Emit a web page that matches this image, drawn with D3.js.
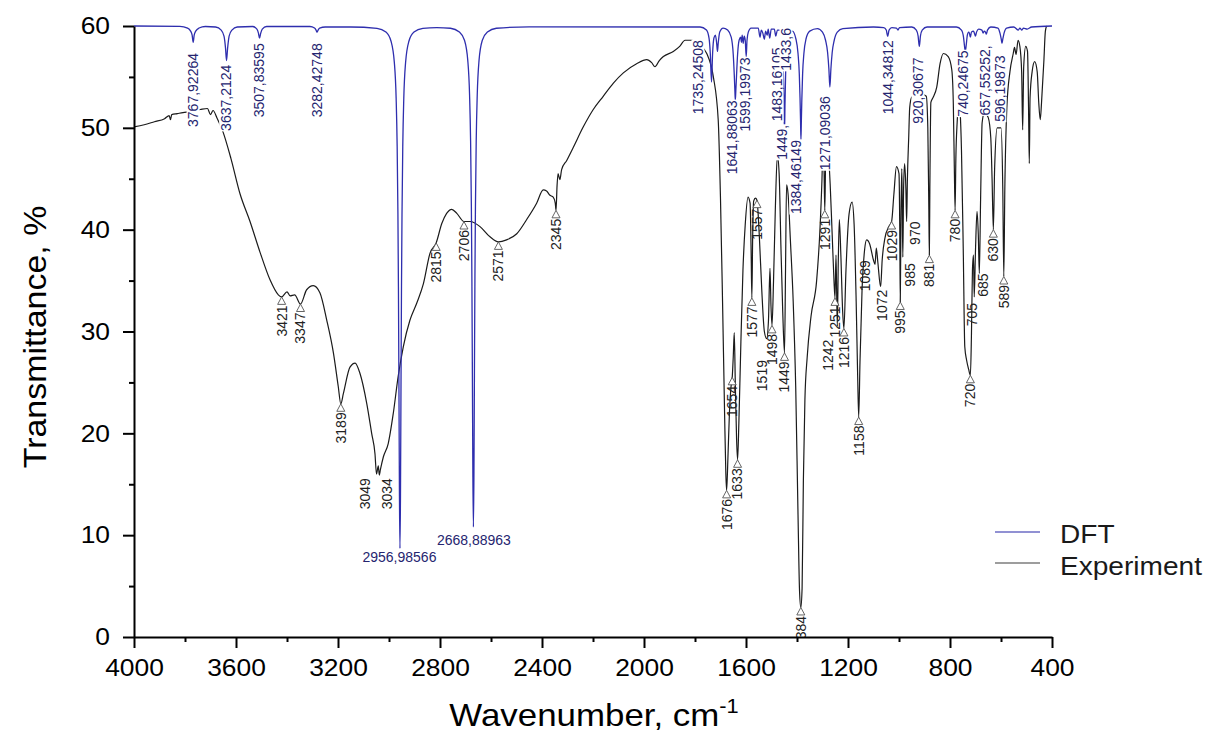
<!DOCTYPE html>
<html><head><meta charset="utf-8">
<script src="https://cdn.jsdelivr.net/npm/d3@7/dist/d3.min.js"></script>
<style>
body{margin:0;background:#fff}
svg{display:block}
text{font-family:"Liberation Sans",Arial,Helvetica,sans-serif}
</style>
</head><body>
<svg id="chart" width="1207" height="733"></svg>
<script>
// ---------------- DATA ----------------
const xTicks = [4000,3600,3200,2800,2400,2000,1600,1200,800,400];
const xMinorTicks = [3800,3400,3000,2600,2200,1800,1400,1000,600];
const yTicks = [0,10,20,30,40,50,60];
const yMinorTicks = [5,15,25,35,45,55];
const seriesNames = ["DFT","Experiment"];

// Experimental spectrum: [wavenumber, transmittance]
const experiment = [
[4000,50.1],[3960,50.3],[3920,50.6],[3880,50.9],[3862,51.2],[3857,50.8],[3852,51.3],[3830,51.4],[3808,51.5],[3780,51.6],[3740,51.8],[3712,51.9],[3700,51.3],[3690,51.7],[3675,51.0],[3651,49.6],[3620,47.0],[3584,43.5],[3545,40.8],[3506,37.8],[3467,35.1],[3434,33.6],[3421,33.4],[3400,33.9],[3388,33.5],[3370,33.6],[3347,32.7],[3323,34.1],[3297,34.5],[3271,33.8],[3244,31.1],[3218,27.9],[3199,24.6],[3189,22.9],[3179,23.9],[3153,26.5],[3133,26.9],[3114,25.9],[3087,22.9],[3068,20.0],[3055,18.0],[3049,16.0],[3042,16.8],[3038,15.9],[3034,16.4],[3022,17.7],[3003,19.0],[2983,22.0],[2964,25.6],[2944,28.5],[2918,31.1],[2891,32.8],[2865,34.7],[2839,37.7],[2815,38.7],[2793,40.6],[2774,41.6],[2754,42.0],[2734,41.6],[2706,40.8],[2682,40.8],[2643,40.3],[2604,39.3],[2571,38.8],[2539,39.0],[2499,39.6],[2460,41.0],[2421,42.6],[2395,43.9],[2382,43.8],[2370,43.4],[2356,43.2],[2348,42.6],[2345,41.9],[2341,44.3],[2337,45.5],[2330,44.9],[2323,45.9],[2303,46.8],[2277,48.1],[2238,50.1],[2199,51.8],[2160,53.1],[2120,54.4],[2081,55.4],[2029,56.3],[1989,56.7],[1970,56.4],[1957,56.0],[1940,56.6],[1924,57.0],[1885,57.5],[1860,58.0],[1839,58.6],[1813,58.6],[1780,58.1],[1754,57.3],[1728,55.0],[1709,50.8],[1700,43.0],[1692,33.0],[1684,22.0],[1679,16.0],[1676,14.4],[1671,17.5],[1665,22.0],[1659,24.5],[1654,25.5],[1650,27.5],[1646,29.9],[1642,25.0],[1637,19.5],[1633,17.4],[1628,21.0],[1620,29.0],[1612,36.0],[1603,40.5],[1592,43.2],[1584,42.6],[1580,38.0],[1577,33.3],[1574,39.0],[1570,42.8],[1563,43.1],[1557,42.9],[1548,39.5],[1538,34.0],[1528,30.0],[1519,29.3],[1512,31.0],[1506,36.2],[1502,32.5],[1498,30.6],[1492,35.0],[1485,42.0],[1477,47.3],[1470,45.5],[1463,38.3],[1456,32.0],[1449,27.9],[1445,36.0],[1441,44.4],[1435,43.5],[1426,39.0],[1415,33.0],[1405,24.5],[1396,12.0],[1390,4.5],[1385,2.9],[1380,4.8],[1375,15.4],[1369,23.3],[1360,27.5],[1345,31.5],[1323,35.0],[1310,40.0],[1302,45.0],[1298,48.5],[1294,46.0],[1291,41.9],[1288,46.5],[1284,49.3],[1278,48.0],[1270,44.5],[1262,39.5],[1255,35.0],[1251,33.3],[1247,37.5],[1242,30.5],[1238,37.0],[1234,41.0],[1228,37.5],[1221,32.0],[1216,30.3],[1208,36.0],[1196,41.5],[1184,42.7],[1176,40.5],[1168,33.0],[1162,25.5],[1158,21.6],[1153,27.0],[1145,34.0],[1135,38.0],[1127,39.0],[1115,38.6],[1100,37.0],[1094,36.6],[1089,38.2],[1083,36.8],[1072,34.4],[1066,37.0],[1055,39.2],[1040,40.3],[1029,40.8],[1020,43.5],[1010,46.2],[1000,45.5],[997,40.0],[995,32.9],[992,42.0],[989,46.0],[987,42.0],[985,37.3],[982,44.0],[978,46.5],[973,44.0],[970,40.8],[967,45.0],[962,49.0],[958,52.0],[950,53.0],[935,53.2],[910,53.3],[893,53.1],[887,50.0],[883,42.0],[881,37.5],[879,44.0],[875,52.5],[866,53.0],[852,54.0],[839,56.3],[826,57.3],[807,57.0],[793,55.7],[787,52.4],[783,46.0],[780,41.9],[777,47.0],[772,50.5],[764,52.5],[760,51.5],[755,47.8],[748,38.0],[742,28.5],[735,27.2],[727,26.3],[720,25.7],[716,29.5],[712,36.0],[708,37.5],[705,33.4],[700,38.0],[694,41.8],[689,39.5],[685,35.7],[680,43.0],[674,50.5],[665,51.5],[650,51.0],[640,49.0],[635,45.0],[630,40.0],[625,46.0],[615,50.0],[600,50.0],[593,44.0],[589,35.4],[585,44.0],[577,52.0],[565,55.5],[552,57.3],[547,57.9],[541,57.2],[533,58.6],[526,58.0],[519,55.5],[515,49.8],[511,56.0],[503,58.0],[496,57.5],[492,52.0],[489,46.5],[486,53.0],[478,55.5],[468,56.5],[458,55.5],[452,52.5],[446,50.8],[441,52.5],[432,56.5],[426,59.5],[421,60.0]
];

// DFT spectrum: [wavenumber, transmittance]
const dft = [
[4000,60],[3820,59.97],[3790,59.8],[3778,59.5],[3772,59.1],[3767.9,58.4],[3764,59.1],[3758,59.5],[3745,59.8],[3720,59.95],
[3680,59.9],[3658,59.6],[3647,59.0],[3641,57.8],[3637.2,56.6],[3633,57.8],[3627,59.0],[3616,59.6],[3595,59.9],
[3535,59.95],[3518,59.7],[3512,59.3],[3507.8,58.8],[3503,59.3],[3497,59.7],[3480,59.95],
[3310,59.95],[3292,59.8],[3286,59.6],[3282.4,59.4],[3278,59.6],[3272,59.8],[3250,59.9],
[3150,59.9],[3047,59.77],[3012,59.4],[2992,58.5],[2979,56.4],[2972,52.9],[2968,48.2],[2965,41.5],[2963,34.4],[2961,24.4],[2959,13.8],[2957,8.7],[2955,13.8],[2953,24.4],[2951,34.4],[2949,41.5],[2946,48.2],[2942,52.9],[2935,56.4],[2922,58.5],[2902,59.4],[2867,59.77],
[2813,59.85],
[2759,59.78],[2724,59.4],[2704,58.6],[2691,56.6],[2684,53.2],[2680,48.7],[2677,42.3],[2675,35.4],[2673,25.8],[2671,15.7],[2669,10.8],[2667,15.7],[2665,25.8],[2663,35.4],[2661,42.3],[2658,48.7],[2654,53.2],[2647,56.6],[2634,58.6],[2614,59.4],[2579,59.78],[2450,59.92],
[1780,59.9],[1755,59.6],[1745,58.8],[1740,57.3],[1735.2,54.5],[1731,57.3],[1726,58.8],[1720,59.1],[1715,58.3],[1712,57.5],[1709,58.3],[1703,59.4],[1690,59.8],
[1672,59.6],[1658,58.9],[1650,57.2],[1646,55.2],[1643.5,53.6],[1641.9,52.7],[1640,53.6],[1637,55.2],[1633,57.2],[1627,58.6],
[1621,58.9],[1618,58.4],[1615,59.1],[1611,58.3],[1607,59.0],[1603,58.6],[1599.2,57.0],[1596,58.6],[1591,59.4],[1580,59.8],
[1552,59.8],[1545,58.9],[1540,59.6],[1534,59.3],[1528,58.7],[1523,59.5],[1517,59.1],[1513,59.7],[1507,58.8],[1501,59.7],
[1489,59.7],[1483.2,59.0],[1477,59.6],[1468,59.6],[1458,58.6],[1454,56.0],[1451,52.5],[1449,49.5],[1447,52.5],[1444,56.0],[1440,58.6],[1436,59.5],[1433.6,59.2],[1431,59.5],
[1418,59.5],[1404,58.7],[1396,57.3],[1391,55.3],[1388,52.8],[1386,50.6],[1384.5,48.8],[1383,50.6],[1381,52.8],[1378,55.3],[1373,57.3],[1365,58.7],[1350,59.5],
[1320,59.75],[1300,59.4],[1288,58.6],[1280,57.4],[1275,55.8],[1271.1,54.0],[1267,55.8],[1262,57.4],[1254,58.6],[1242,59.4],[1220,59.75],
[1100,59.9],[1060,59.85],[1050,59.6],[1044.3,59.0],[1039,59.6],[1028,59.85],[1010,59.8],[1004,59.6],[998,59.85],
[950,59.9],[932,59.6],[925,59.0],[920.3,58.0],[916,59.0],[909,59.6],[890,59.9],
[775,59.9],[755,59.6],[747,58.9],[743,58.0],[740.2,57.5],[737,58.0],[732,59.1],[727,59.4],[724,59.3],[720,58.9],[716,59.4],[708,59.5],[703,59.2],[700,59.0],[696,59.4],[688,59.7],[675,59.6],[670,59.3],[666,59.5],[661,59.4],[657.6,59.2],[653,59.6],[640,59.9],
[612,59.8],[604,59.3],[599,58.7],[596.2,58.3],[593,58.7],[588,59.3],[578,59.8],
[550,59.9],[532,59.6],[526,59.8],[518,59.6],[512,59.8],[497,59.7],[480,59.9],[400,60]
];

// DFT peak labels: text, anchor wavenumber, anchor transmittance (top of label), horizontal?
const dftLabelText = ["3767,92264","3637,2124","3507,83595","3282,42748","2956,98566","2668,88963","1735,24508","1641,88063","1599,19973","1483,16105","1449,","1433,6","1384,46149","1271,09036","1044,34812","920,30677","740,24675","657,55252,","596,19873"];
const dftLabelWn   = [3767.9,3640,3510,3282,2959,2667,1788,1655,1604,1478,1459,1443,1404,1290,1043,925,749,663,604];
const dftLabelT    = [57.35,56.2,58.3,58.3,7.37,9.03,58.6,52.7,56.9,57.9,50.3,59.8,48.8,53.1,58.6,56.9,57.6,58.1,57.1];
const dftLabelFlat = [0,0,0,0,1,1,0,0,0,0,0,0,0,0,0,0,0,0,0];

// Experimental peak labels
const expLabelText = ["3421","3347","3189","3049","3034","2815","2706","2571","2345","1676","1654","1633","1577","1557","1519","1498","1449","1384","1291","1251","1242","1216","1158","1089","1072","1029","995","985","970","881","780","720","705","685","630","589"];
const expLabelWn   = [3421,3347,3189,3049,3034,2815,2706,2571,2345,1676,1654,1633,1577,1557,1519,1498,1449,1385,1291,1251,1242,1216,1158,1089,1072,1029,995,985,970,881,780,720,705,685,630,589];
const expLabelT    = [33.4,32.7,22.9,15.6,15.6,38.7,40.8,38.8,41.9,14.4,25.5,17.4,33.3,42.9,27.2,30.6,27.9,2.9,41.9,33.3,29.2,30.3,21.6,37.0,34.1,40.8,32.9,36.7,40.8,37.5,41.9,25.7,32.8,35.7,40.0,35.4];
const expLabelMarked = [1,1,1,0,0,1,1,1,1,1,1,1,1,1,0,1,1,1,1,1,0,1,1,0,0,1,1,0,0,1,1,1,0,0,1,1];

// ---------------- LAYOUT / STYLE ----------------
const labelNudge = {"3049":-11,"3034":7,"1519":-5,"1242":-9,"1089":-11,"1072":1,"985":7,"970":8,"705":-2,"685":4};
const C = {dft:"#2e2eae", dftText:"#25256f", exp:"#1b1b1b", expText:"#222", axis:"#000"};

const svg = d3.select("#chart");
const x = d3.scaleLinear().domain([4000,400]).range([134,1052]);
const y = d3.scaleLinear().domain([0,60]).range([637,26]);

const defs = svg.append("defs");
defs.append("clipPath").attr("id","clipPlot").append("rect")
  .attr("x",134).attr("y",18).attr("width",920).attr("height",619);

const line = d3.line().x(d=>x(d[0])).y(d=>y(d[1])).curve(d3.curveMonotoneX);

const plot = svg.append("g").attr("clip-path","url(#clipPlot)");
plot.append("path").datum(experiment).attr("d",line)
  .attr("fill","none").attr("stroke",C.exp).attr("stroke-width",1.2).attr("stroke-linejoin","round");
plot.append("path").datum(dft).attr("d",line)
  .attr("fill","none").attr("stroke",C.dft).attr("stroke-width",1.3).attr("stroke-linejoin","round");

// DFT labels with white backgrounds
const dftG = plot.append("g");
dftLabelText.forEach((t,i)=>{
  const px = x(dftLabelWn[i]), py = y(dftLabelT[i]);
  let g, txt;
  if (dftLabelFlat[i]) {
    g = dftG.append("g").attr("transform",`translate(${px},${py})`);
    txt = g.append("text").attr("text-anchor","middle").text(t);
  } else {
    g = dftG.append("g").attr("transform",`translate(${px},${py}) rotate(-90)`);
    txt = g.append("text").attr("text-anchor","end").attr("dy","0.35em").text(t);
  }
  txt.style("font-size","14px").attr("fill",C.dftText);
  const b = txt.node().getBBox();
  g.insert("rect","text").attr("x",b.x-0.5).attr("y",b.y+1.5).attr("width",b.width+1).attr("height",b.height-3).attr("fill","#fff");
});

// Experimental labels with open triangle markers
const expG = plot.append("g");
expLabelText.forEach((t,i)=>{
  const px = x(expLabelWn[i]) + (labelNudge[t]||0), py = y(expLabelT[i]);
  let ty = py;
  if (expLabelMarked[i]) {
    expG.append("path")
      .attr("d",`M${px},${py} L${px+4},${py+7.5} L${px-4},${py+7.5} Z`)
      .attr("fill","#fff").attr("stroke","#555").attr("stroke-width",0.9);
    ty = py + 8.5;
  }
  expG.append("text").attr("transform",`translate(${px},${ty}) rotate(-90)`)
    .attr("text-anchor","end").attr("dy","0.35em")
    .style("font-size","14px").attr("fill",C.expText).text(t);
});

// ---------------- AXES ----------------
function styleAxis(g){
  g.select(".domain").attr("stroke",C.axis).attr("stroke-width",2);
  g.selectAll(".tick line").attr("stroke",C.axis).attr("stroke-width",2);
  g.selectAll(".tick text").attr("fill","#000").style("font-size","24px")
   .style("font-family",'"Liberation Sans",Arial,sans-serif');
}
const gxMinor = svg.append("g").attr("transform","translate(0,637)")
  .call(d3.axisBottom(x).tickValues(xMinorTicks).tickSize(5).tickSizeOuter(0).tickFormat(""));
gxMinor.select(".domain").remove();
gxMinor.selectAll(".tick line").attr("stroke","#000").attr("stroke-width",2);
const gyMinor = svg.append("g").attr("transform","translate(134,0)")
  .call(d3.axisLeft(y).tickValues(yMinorTicks).tickSize(5).tickSizeOuter(0).tickFormat(""));
gyMinor.select(".domain").remove();
gyMinor.selectAll(".tick line").attr("stroke","#000").attr("stroke-width",2);

const gx = svg.append("g").attr("transform","translate(0,637)")
  .call(d3.axisBottom(x).tickValues(xTicks).tickSize(11).tickSizeOuter(0).tickPadding(11).tickFormat(d3.format("d")));
styleAxis(gx);
gx.selectAll(".tick text").style("transform-box","fill-box").style("transform-origin","center").style("transform","scaleX(1.1)");

const gy = svg.append("g").attr("transform","translate(134,0)")
  .call(d3.axisLeft(y).tickValues(yTicks).tickSize(11).tickSizeOuter(0).tickPadding(13).tickFormat(d3.format("d")));
styleAxis(gy);
gy.selectAll(".tick text").style("transform-box","fill-box").style("transform-origin","right center").style("transform","scaleX(1.1)");

// Axis titles
const xt = svg.append("text").attr("transform","translate(594,726) scale(1.09,1)")
  .attr("text-anchor","middle").style("font-size","32px").attr("fill","#000");
xt.append("tspan").text("Wavenumber, cm");
xt.append("tspan").attr("dy",-13).style("font-size","20px").text("-1");

svg.append("text").attr("transform","translate(46,337) rotate(-90) scale(1.06,1)")
  .attr("text-anchor","middle").style("font-size","32px").attr("fill","#000")
  .text("Transmittance, %");

// ---------------- LEGEND ----------------
const legendColors = ["#6c6cc4","#7c7c7c"];
const legendY = [532,563];
const legendBase = [543,575];
seriesNames.forEach((n,i)=>{
  svg.append("line").attr("x1",995).attr("x2",1040).attr("y1",legendY[i]).attr("y2",legendY[i])
    .attr("stroke",legendColors[i]).attr("stroke-width",1.6);
  svg.append("text").attr("transform",`translate(1060,${legendBase[i]}) scale(1.08,1)`)
    .style("font-size","26px").attr("fill","#1a1a1a").text(n);
});
</script>
</body></html>
